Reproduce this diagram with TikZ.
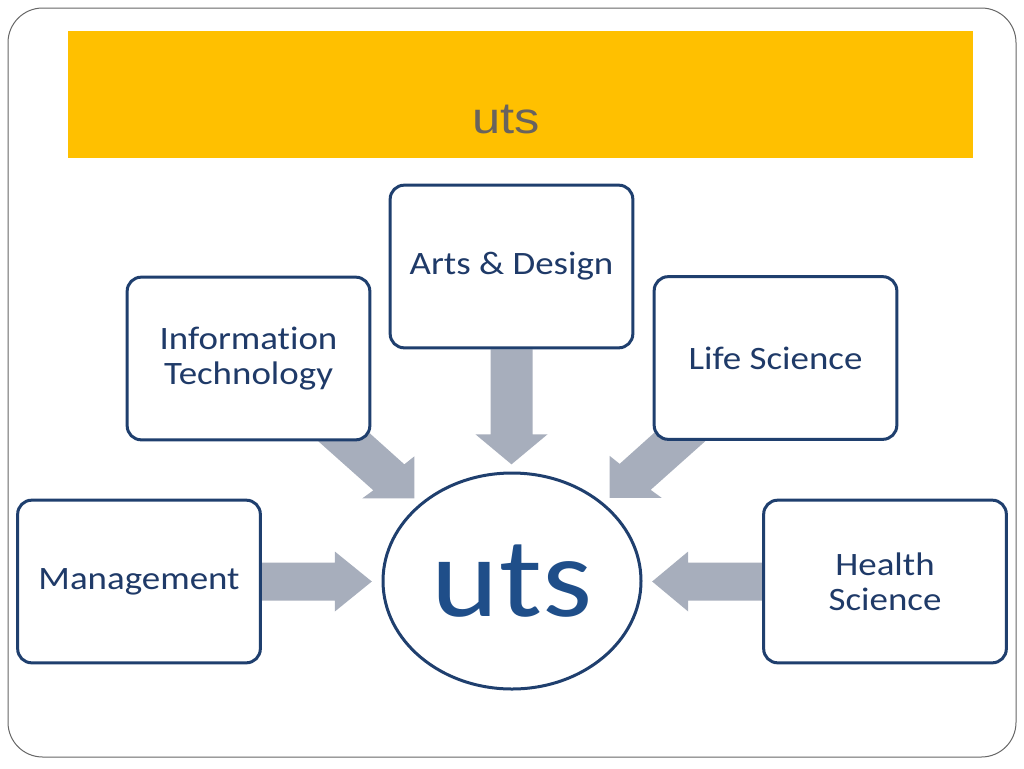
\documentclass[tikz,border=0pt]{standalone}
\usepackage{fontspec}
\setmainfont{Carlito}[FakeStretch=1.13, Ligatures=NoCommon]
\newfontfamily\titlefont{Liberation Sans}[FakeStretch=1.15]
\usepackage{tikz}
\tikzset{>=latex}
\usetikzlibrary{shapes.geometric}
\usetikzlibrary{backgrounds}
\definecolor{banner}{HTML}{FFC000}
\definecolor{navy}{HTML}{1F3F6E}
\definecolor{navytext}{HTML}{1F3A68}
\definecolor{hubtext}{HTML}{1F4E89}
\definecolor{titlegray}{HTML}{69635E}
\definecolor{feedgray}{HTML}{A7AEBC}
\tikzset{
    faculty/.style={draw=navy, line width=2.25pt, fill=white, rounded corners=10.5pt, minimum width=182pt, minimum height=122pt, inner sep=0pt, align=center, text=navytext, font=\fontsize{24.5}{26}\selectfont},
    hub/.style={draw=navy, line width=2.25pt, fill=white, ellipse, minimum width=193.5pt, minimum height=162pt, inner sep=0pt, text=hubtext, font=\fontsize{85}{90}\selectfont},
    feed/.style={fill=feedgray}
}

\begin{document}
\begin{tikzpicture}[x=0.75pt, y=-0.75pt]
            \useasboundingbox (0, 0) rectangle (1024, 768);
            \draw[gray!80!black, line width=0.75pt, rounded corners=26pt] (8, 8) rectangle (1016, 757);
            \fill[banner] (68, 31) rectangle (973, 158);
            \node [font=\titlefont\fontsize{33}{36}\selectfont, text=titlegray] (title) at (506, 119) {uts};
            
            \node [faculty] (arts) at (511.5, 266.5) {Arts \& Design};
            \node [faculty] (info) at (248.5, 358.5) {Informat\kern0pt ion\\Technology};
            \node [faculty] (life) at (775.5, 358) {Life Science};
            \node [faculty] (mgmt) at (139, 581.5) {Management};
            \node [faculty] (health) at (885, 581.5) {Health\\Science};
            \node [hub] (uts) at (512, 581) {uts};
            
            \begin{pgfonlayer}{background}
            \fill[feed] (arts.south) +(-21, 0) -- +(-21, 85) -- +(-36, 85) -- +(0, 115) -- +(36, 85) -- +(21, 85) -- +(21, 0) -- cycle;
            \fill[feed] (mgmt.east) +(0, -19) -- +(73, -19) -- +(73, -30) -- +(110, 0) -- +(73, 30) -- +(73, 19) -- +(0, 19) -- cycle;
            \fill[feed] (health.west) +(0, -19) -- +(-74, -19) -- +(-74, -30) -- +(-110, 0) -- +(-74, 30) -- +(-74, 19) -- +(0, 19) -- cycle;
            \fill[feed] (info.south east) +(-53, 0) -- +(2, 49) -- +(-9, 57) -- +(43, 57) -- +(43, 15) -- +(33, 23) -- +(-26, -30) -- cycle;
            \fill[feed] (life.south west) +(53, 0) -- +(-2, 49) -- +(9, 57) -- +(-43, 57) -- +(-43, 15) -- +(-33, 23) -- +(26, -30) -- cycle;
            \end{pgfonlayer}
        \end{tikzpicture}
\end{document}
